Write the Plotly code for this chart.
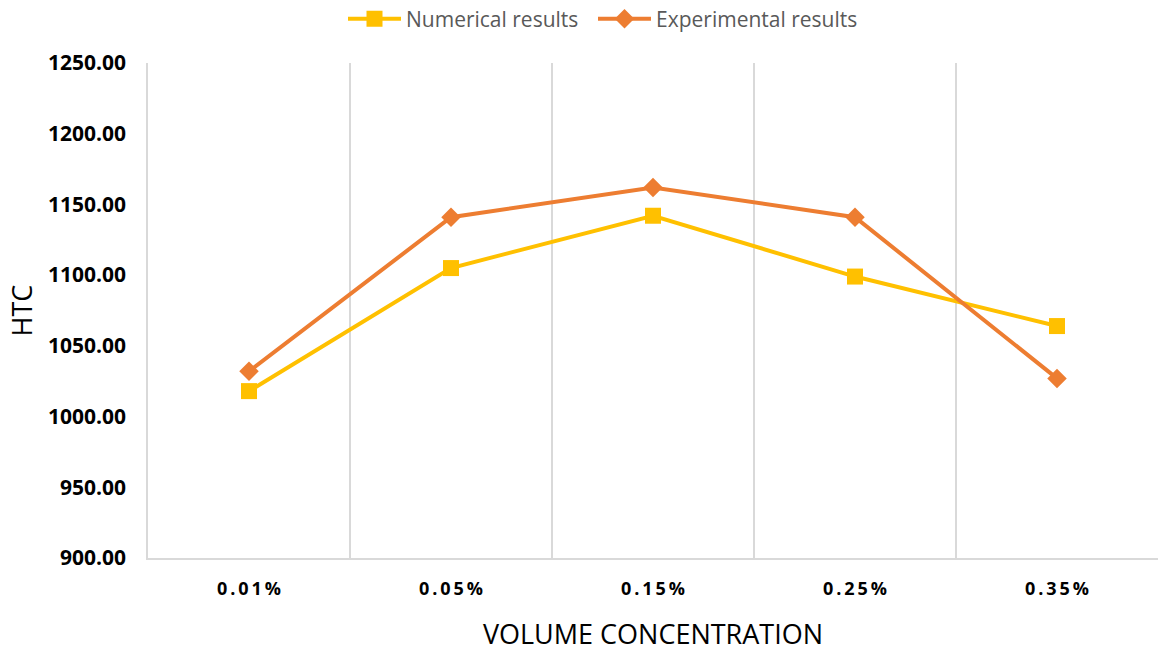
import plotly.graph_objects as go

# Volume concentration categories and heat transfer coefficient values
concentrations = ["0.01%", "0.05%", "0.15%", "0.25%", "0.35%"]
numerical_htc = [1018, 1105, 1142, 1099, 1064]
experimental_htc = [1032, 1141, 1162, 1141, 1027]
y_ticks = [900, 950, 1000, 1050, 1100, 1150, 1200, 1250]

# letter-spaced category labels
THIN = "\u2009"
spaced_labels = [THIN.join(list(c)) for c in concentrations]

fig = go.Figure()
fig.add_trace(go.Scatter(
    x=concentrations, y=numerical_htc, name="Numerical results",
    mode="lines+markers", legend="legend",
    line=dict(color="#FFC000", width=4),
    marker=dict(symbol="square", size=16, color="#FFC000"),
))
fig.add_trace(go.Scatter(
    x=concentrations, y=experimental_htc, name="Experimental results",
    mode="lines+markers", legend="legend2",
    line=dict(color="#ED7D31", width=4),
    marker=dict(symbol="diamond", size=15, color="#ED7D31"),
))

legend_style = dict(
    orientation="h", xanchor="left", y=1.13, yanchor="top",
    font=dict(size=21, color="#595959", family="Open Sans"),
    itemwidth=53, bgcolor="rgba(0,0,0,0)",
)

fig.update_layout(
    width=1160, height=652,
    margin=dict(l=148, r=2, t=63, b=94, autoexpand=False),
    plot_bgcolor="white", paper_bgcolor="white",
    font=dict(family="Open Sans", color="#000000"),
    legend=dict(x=(343 - 148) / 1010, **legend_style),
    legend2=dict(x=(593 - 148) / 1010, **legend_style),
    showlegend=True,
)

fig.update_xaxes(
    type="category",
    tickvals=concentrations, ticktext=spaced_labels,
    tickson="boundaries",
    showgrid=True, gridcolor="#D9D9D9", gridwidth=1.5,
    showline=True, linecolor="#D9D9D9", linewidth=1.5,
    ticks="", ticklabelstandoff=14,
    tickfont=dict(size=18, family="Open Sans", weight="bold", color="#000000"),
    title=dict(text="VOLUME CONCENTRATION", standoff=32,
               font=dict(size=27, family="Open Sans", color="#000000")),
    range=[-0.5, 4.5],
)
fig.update_yaxes(
    range=[900, 1250],
    tickvals=y_ticks, ticktext=[f"{v:.2f}" for v in y_ticks],
    showgrid=False, zeroline=False,
    showline=True, linecolor="#D9D9D9", linewidth=1.5,
    ticks="", ticklabelstandoff=16,
    tickfont=dict(size=21, family="Open Sans", weight="bold", color="#000000"),
    title=dict(text="HTC", standoff=8,
               font=dict(size=27, family="Open Sans", color="#000000")),
)

fig.write_html("out.html")
